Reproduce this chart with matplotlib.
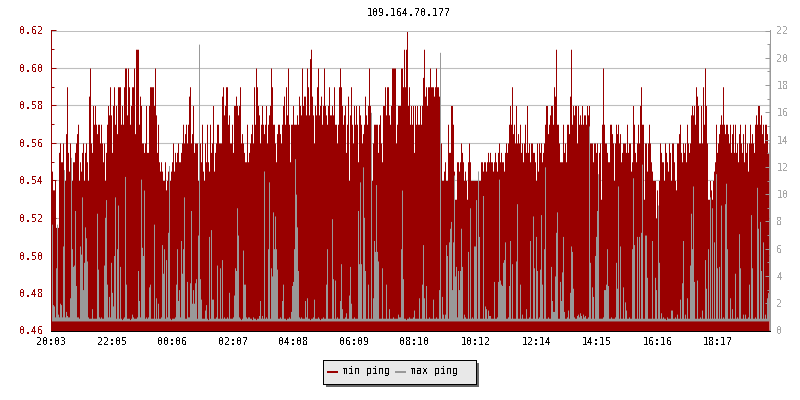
import numpy as np
import matplotlib
matplotlib.use("Agg")
import matplotlib.pyplot as plt
from matplotlib.lines import Line2D
from matplotlib.patches import Rectangle
from matplotlib.ticker import MultipleLocator

plt.rcParams["font.family"] = ["DejaVu Sans Mono", "Liberation Mono"]
plt.rcParams["text.antialiased"] = False

TITLE = "109.164.70.177"
SERIES_NAMES = ["min ping", "max ping"]
TICK_MINUTES = [0, 122, 243, 364, 485, 606, 727, 849, 971, 1092, 1213, 1334]
TICK_LABELS = ["20:03", "22:05", "00:06", "02:07", "04:08", "06:09", "08:10",
               "10:12", "12:14", "14:15", "16:16", "18:17"]

# one sample every 2 minutes, min in 1/1000, max in 1/10
min_ping = [
    545,545,535,535,540,515,515,515,555,560,550,550,560,540,540,565,590,555,545,560,550,540,550,550,555,560,565,570,540,550,
    545,555,560,540,555,560,550,540,585,600,560,555,580,570,580,570,565,570,570,560,570,560,550,560,540,555,570,580,575,590,
    575,555,580,590,570,580,565,590,590,590,570,580,570,590,600,600,575,600,590,570,580,590,590,600,565,610,610,610,570,585,
    580,560,560,555,560,580,555,555,580,590,590,590,590,580,600,575,555,570,550,545,550,545,540,540,550,535,540,545,530,540,
    545,550,560,545,555,550,555,560,550,550,555,560,570,560,565,570,560,570,585,590,560,565,580,555,560,560,560,540,560,560,
    550,570,545,540,560,550,570,550,545,570,555,560,580,545,555,560,570,570,560,560,560,585,590,575,580,590,590,570,575,560,
    560,570,555,580,580,585,580,575,580,590,560,565,560,555,550,550,570,550,555,560,565,570,560,590,570,600,590,580,575,560,
    570,580,570,565,570,580,560,570,575,580,600,590,570,570,560,550,565,570,570,565,560,570,580,585,570,590,575,600,570,550,
    570,570,580,570,570,570,575,570,585,580,575,600,580,585,585,575,600,590,575,605,610,585,575,560,580,575,590,600,575,580,
    585,570,580,600,580,575,570,580,590,575,575,580,575,590,570,570,560,570,590,600,590,580,570,575,580,555,570,585,540,575,
    590,570,560,580,570,580,570,550,580,575,570,560,565,570,585,575,570,580,600,580,575,540,560,570,570,570,570,555,570,575,
    560,550,580,580,590,575,590,590,575,570,580,600,600,600,600,560,570,580,580,580,600,600,590,610,590,610,620,580,590,570,
    580,570,580,555,580,570,580,570,570,580,570,580,595,610,585,590,580,590,590,600,590,590,590,585,590,600,590,590,585,590,
    560,540,540,545,550,540,540,570,555,555,580,580,570,545,530,530,550,550,545,550,560,555,550,540,545,540,530,550,560,550,
    540,540,540,540,540,540,540,525,540,540,550,550,545,550,550,545,550,555,550,555,550,550,545,550,555,550,545,555,560,550,
    555,550,550,545,555,560,555,560,570,580,570,590,565,570,560,580,560,565,560,570,555,560,550,560,570,555,580,555,560,550,
    560,560,555,555,550,540,560,545,560,555,560,550,555,560,570,580,580,565,570,575,580,580,570,590,585,610,570,570,560,550,
    550,550,570,555,560,550,570,570,565,585,610,570,580,575,580,580,560,580,570,575,570,580,570,575,575,570,580,575,580,560,
    560,560,550,560,560,555,560,540,555,560,530,570,600,570,560,560,555,550,550,570,570,565,560,540,560,570,565,570,560,565,
    550,555,560,560,560,555,570,555,560,560,545,550,580,570,555,550,560,570,560,580,590,570,570,530,560,560,545,560,570,560,
    550,545,540,540,540,520,535,520,540,560,555,550,550,540,560,555,550,545,560,555,540,560,560,550,540,535,560,560,565,570,
    555,550,560,555,560,550,570,560,555,560,575,580,575,580,570,590,585,580,560,560,580,560,590,570,600,580,560,530,530,540,
    535,530,540,545,550,570,555,560,565,570,575,570,590,570,565,570,570,565,560,570,555,565,570,555,570,555,560,550,565,570,
    560,555,565,550,570,555,560,545,560,570,560,565,560,555,570,575,570,580,580,570,575,565,570,560,570,570,565,555,560,
]
max_ping = [
    78,78,19,18,10,46,78,12,10,20,19,10,62,118,10,14,11,10,10,24,127,60,47,48,88,33,10,10,9,62,
    56,98,30,50,76,68,51,10,9,9,9,16,9,9,9,9,86,45,10,9,10,9,9,48,83,96,34,10,25,10,
    50,28,18,55,98,9,60,92,9,47,9,8,9,10,113,34,9,9,9,8,9,12,10,9,9,9,10,44,22,10,
    111,61,55,103,9,10,9,10,32,34,9,9,9,78,9,24,9,20,9,9,10,63,42,60,9,52,10,72,121,9,
    8,9,9,9,10,34,60,22,30,10,66,42,60,98,9,9,36,10,10,35,88,20,30,20,35,38,9,70,210,38,
    23,9,9,9,15,19,9,8,69,9,74,23,23,9,9,10,48,9,9,46,9,52,9,10,9,9,10,9,28,9,
    9,9,10,26,46,44,90,70,10,9,8,9,59,34,34,10,9,10,10,9,9,8,10,9,9,8,9,9,11,22,
    9,11,9,117,9,10,9,60,109,9,46,40,87,60,84,60,45,9,9,10,9,22,34,9,9,8,9,9,10,9,
    14,33,36,60,126,100,76,44,10,9,10,9,9,9,22,10,24,9,9,8,9,9,10,23,9,9,9,10,9,8,
    9,9,10,9,9,34,60,9,9,9,9,82,38,9,37,9,10,9,9,22,49,16,9,9,10,13,9,9,26,47,
    20,9,9,10,9,9,9,88,49,109,49,9,120,83,44,9,9,34,9,9,160,9,24,66,58,107,58,51,9,9,
    9,46,9,9,9,34,9,9,16,9,9,9,10,9,9,9,9,12,10,10,60,103,38,9,9,8,9,9,10,9,
    9,9,10,15,9,9,9,9,24,9,9,34,63,24,9,33,9,9,10,9,9,9,23,9,9,10,9,9,30,204,
    9,25,12,9,12,63,55,9,65,75,80,30,65,114,40,47,10,44,30,44,75,47,9,12,10,9,9,58,9,90,
    9,10,9,62,62,96,9,117,69,9,9,9,99,9,18,16,9,15,11,11,9,9,9,36,9,9,10,36,111,37,
    34,33,50,52,65,9,9,10,33,66,9,49,9,9,9,51,93,9,9,34,9,12,9,9,9,16,9,9,10,66,
    9,9,84,46,9,69,44,9,10,45,85,34,9,60,120,9,9,10,9,9,47,22,14,14,40,72,87,9,9,36,
    22,43,69,14,9,9,10,15,9,28,62,58,31,10,9,9,11,12,10,13,11,9,12,10,11,9,9,10,150,50,
    9,32,25,9,55,69,88,115,9,9,9,9,10,30,30,34,60,33,9,9,10,9,9,9,10,50,31,106,9,62,
    9,9,32,9,21,15,9,9,10,9,9,60,112,63,9,9,69,9,69,9,72,122,9,9,70,70,39,9,9,9,
    9,66,9,9,39,30,9,92,50,9,13,9,10,9,9,8,10,9,9,9,15,15,9,9,10,9,12,9,9,23,
    9,35,66,9,12,9,24,9,9,48,86,60,106,36,9,9,37,9,9,10,9,15,9,9,52,31,9,60,9,98,
    9,90,9,65,9,115,46,9,47,9,92,9,10,9,93,108,60,9,9,24,9,16,9,9,42,9,10,9,71,46,
    9,9,12,9,12,9,9,10,34,9,85,46,9,9,10,9,105,75,9,80,44,9,65,9,12,9,24,28,210,
]
MAX_FLOOR = 0.7

RED = "#990000"
GRAY = "#999999"
GRID = "#BEBEBE"
W, H = 800, 400
FONT = 7.2
PX = 0.72


def fx(px):
    return px / W


def fy(py):
    return 1 - py / H


fig = plt.figure(figsize=(8, 4), dpi=100, facecolor="white")
ax = fig.add_axes([fx(50.5), fy(330.5), 719 / W, 300 / H])
ax2 = ax.twinx()

minutes_min = np.arange(len(min_ping)) * 2
minutes_max = np.arange(len(max_ping)) * 2

ax.fill_between(minutes_min, np.array(min_ping) / 1000, 0.46, step="mid",
                color=RED, linewidth=0, antialiased=False, zorder=2)
ax2.fill_between(minutes_max, MAX_FLOOR, np.array(max_ping) / 10, step="mid",
                 color=GRAY, linewidth=0, antialiased=False, zorder=2)

ax.set_xlim(-1, 1437)
ax.set_ylim(0.46, 0.62)
ax2.set_ylim(0, 22)

ax.set_axisbelow(True)
ax.yaxis.set_major_locator(MultipleLocator(0.02))
ax.yaxis.set_minor_locator(MultipleLocator(0.01))
ax.yaxis.set_major_formatter("{x:.2f}")
ax.grid(axis="y", which="major", color=GRID, linewidth=1.1 * PX)
ax2.yaxis.set_major_locator(MultipleLocator(2))
ax2.yaxis.set_minor_locator(MultipleLocator(1))

ax.set_xticks(TICK_MINUTES, TICK_LABELS)
ax.tick_params(axis="x", direction="in", length=3.6, width=PX, colors="black",
               labelsize=FONT, pad=5)
ax.tick_params(axis="y", which="major", direction="in", length=3.6, width=PX,
               colors=RED, labelsize=FONT, pad=5)
ax.tick_params(axis="y", which="minor", direction="in", length=2.2, width=PX, colors=RED)
ax2.tick_params(axis="y", which="major", direction="in", length=3.6, width=PX,
                color=GRAY, labelcolor="#A8A8A8", labelsize=FONT, pad=5)
ax2.tick_params(axis="y", which="minor", direction="in", length=2.2, width=PX, color=GRAY)

for a in (ax, ax2):
    a.spines["top"].set_visible(False)
    a.spines["left"].set_color(RED)
    a.spines["right"].set_color(GRAY)
    a.spines["bottom"].set_color("black")
    for s in a.spines.values():
        s.set_linewidth(PX)
ax.spines["top"].set_visible(True)
ax.spines["top"].set_color(GRID)

fig.text(fx(409), fy(13), TITLE, ha="center", va="center", fontsize=FONT, color="black")

# legend box with its shadow
fig.add_artist(Rectangle((fx(325.5), fy(386.5)), 153.5 / W, 24 / H, transform=fig.transFigure,
                         facecolor="#666666", edgecolor="none", antialiased=False))
fig.add_artist(Rectangle((fx(322.5), fy(383.5)), 153 / W, 24 / H, transform=fig.transFigure,
                         facecolor="#E8E8E8", edgecolor="black", linewidth=PX, antialiased=False))
for name, color, x0, x_text in zip(SERIES_NAMES, [RED, GRAY], [327, 395], [341.5, 409.5]):
    fig.add_artist(Line2D([fx(x0), fx(x0 + 11)], [fy(372), fy(372)], transform=fig.transFigure,
                          color=color, linewidth=2 * PX, antialiased=False, solid_capstyle="butt"))
    fig.text(fx(x_text), fy(371), name, ha="left", va="center", fontsize=FONT, color="black")

fig.savefig("out.png", dpi=100)
